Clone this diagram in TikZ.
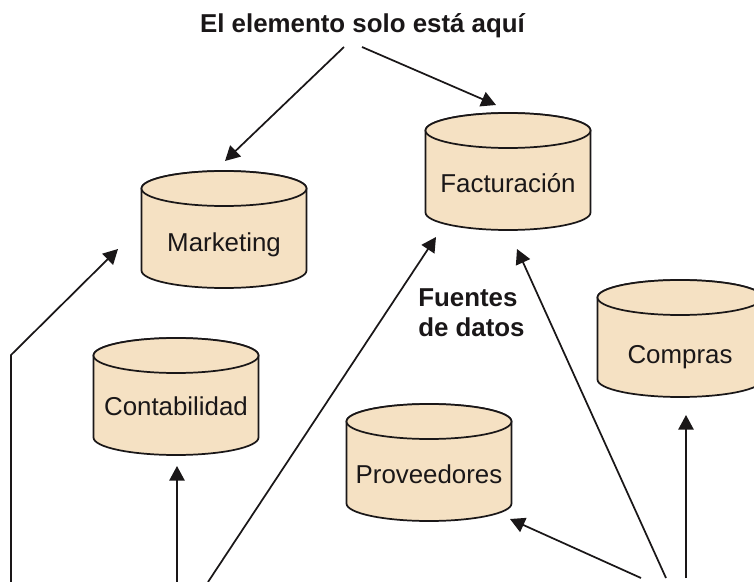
\documentclass[tikz,border=0pt]{standalone}
\usepackage{fontspec}
\setmainfont{Liberation Sans}
\usetikzlibrary{arrows.meta}
\definecolor{db}{HTML}{F5E1C3}
\definecolor{ink}{HTML}{1A1718}
\tikzset{
  x=0.75pt,y=-0.75pt,
  dbbody/.style={draw=ink,fill=db,line width=1.3pt,line join=round},
  dbtext/.style={text=ink,inner sep=0pt,font=\fontsize{19.4}{23}\selectfont},
  arr/.style={draw=ink,line width=1.3pt,-{Triangle[length=11pt,width=11.5pt]}},
  lbl/.style={font=\bfseries\fontsize{19.4}{22.5}\selectfont,text=ink,align=left,inner sep=0pt},
}
% name, centre x, top y of the upper ellipse, y of the text, text
\newcommand{\dbcyl}[5]{%
  \path[dbbody] (#2-82.5,#3+17.5) -- ++(0,82) arc[start angle=180,end angle=0,x radius=82.5,y radius=17.5]
    -- ++(0,-82) arc[start angle=0,end angle=-180,x radius=82.5,y radius=17.5] -- cycle;
  \path[dbbody] (#2,#3+17.5) ellipse[x radius=82.5,y radius=17.5];
  \node[dbtext] (#1) at (#2,#4) {#5};
}
\begin{document}
\begin{tikzpicture}
\useasboundingbox (0,0) rectangle (754,582);
\dbcyl{mkt}{224}{171}{245}{Marketing}
\dbcyl{fac}{508}{113}{183}{Facturación}
\dbcyl{com}{680}{280}{357}{Compras}
\dbcyl{con}{176}{338}{406}{Contabilidad}
\dbcyl{pro}{429}{404}{474}{Proveedores}
\node[lbl] (title) at (362.5,26) {El elemento solo está aquí};
\node[lbl,anchor=north west] (fuentes) at (418,288) {Fuentes\\de datos};
\coordinate (t1) at (344,47);
\coordinate (t2) at (362,47);
\coordinate (b1) at (11,582);
\coordinate (b1k) at (11,355);
\coordinate (b2) at (177,582);
\coordinate (b3) at (208,582);
\coordinate (b4) at (666,578);
\coordinate (b5) at (641,578);
\coordinate (b6) at (686,578);
\coordinate (e1) at (225,161);
\coordinate (e2) at (496,105);
\coordinate (e3) at (118,249);
\coordinate (e4) at (177,466);
\coordinate (e5) at (436,237);
\coordinate (e6) at (517,249);
\coordinate (e7) at (510,519);
\coordinate (e8) at (686,415);
\draw[arr] (t1) -- (e1);
\draw[arr] (t2) -- (e2);
\draw[arr] (b1) -- (b1k) -- (e3);
\draw[arr] (b2) -- (e4);
\draw[arr] (b3) -- (e5);
\draw[arr] (b4) -- (e6);
\draw[arr] (b5) -- (e7);
\draw[arr] (b6) -- (e8);
\end{tikzpicture}
\end{document}
